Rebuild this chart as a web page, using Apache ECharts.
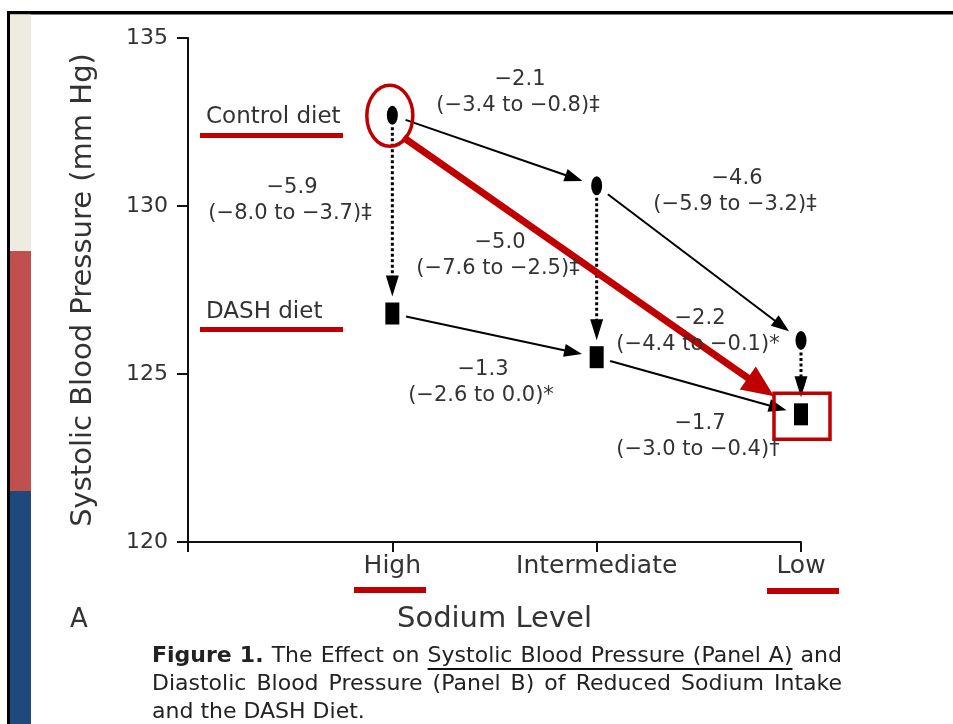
<!DOCTYPE html>
<html>
<head>
<meta charset="utf-8">
<script src="https://cdn.jsdelivr.net/npm/echarts@6/dist/echarts.min.js"></script>
<style>
  html, body { margin: 0; padding: 0; background: #fff; }
  #chart { width: 953px; height: 724px; }
</style>
</head>
<body>
<div id="chart"></div>
<script>
// values
var levels = ['High', 'Intermediate', 'Low'];
var controlBP = [132.7, 130.6, 126.0];
var dashBP = [126.8, 125.5, 123.8];
var yTicks = [120, 125, 130, 135];

// effect labels
var controlDiff = ['\u22122.1', '\u22124.6'];
var controlCI = ['(\u22123.4 to \u22120.8)\u2021', '(\u22125.9 to \u22123.2)\u2021'];
var dashDiff = ['\u22121.3', '\u22121.7'];
var dashCI = ['(\u22122.6 to 0.0)*', '(\u22123.0 to \u22120.4)\u2020'];
var dietDiff = ['\u22125.9', '\u22125.0', '\u22122.2'];
var dietCI = ['(\u22128.0 to \u22123.7)\u2021', '(\u22127.6 to \u22122.5)\u2021', '(\u22124.4 to \u22120.1)*'];

var font = '"DejaVu Sans", "Liberation Sans", sans-serif';
var textColor = '#333';
var hiRed = '#c00000';

// label placement (pixels)
var diffPos = {
  control: [[520, 80], [737, 179]],
  dash: [[483, 370], [700, 424]],
  diet: [[292, 188], [500, 243], [700, 319]]
};
var ciGap = 26;

function pts(vals) {
  return vals.map(function (v, i) { return [i + 1, v]; });
}

// arrow segments: [x1, y1, x2, y2, dotted]
var arrowData = [];
[controlBP, dashBP].forEach(function (vals) {
  for (var i = 0; i < vals.length - 1; i++) arrowData.push([i + 1, vals[i], i + 2, vals[i + 1], 0]);
});
for (var i = 0; i < levels.length; i++) arrowData.push([i + 1, controlBP[i], i + 1, dashBP[i], 1]);

function renderArrow(params, api) {
  var p1 = api.coord([api.value(0), api.value(1)]);
  var p2 = api.coord([api.value(2), api.value(3)]);
  var dotted = api.value(4) === 1;
  var dx = p2[0] - p1[0], dy = p2[1] - p1[1];
  var len = Math.sqrt(dx * dx + dy * dy);
  var ux = dx / len, uy = dy / len, nx = -uy, ny = ux;
  var g0 = dotted ? 12 : 14, g1 = dotted ? 17 : 15;
  var head = dotted ? 21 : 18, half = 6.5;
  var s = [p1[0] + ux * g0, p1[1] + uy * g0];
  var tip = [p2[0] - ux * g1, p2[1] - uy * g1];
  var base = [tip[0] - ux * head, tip[1] - uy * head];
  return {
    type: 'group',
    children: [{
      type: 'line',
      shape: { x1: s[0], y1: s[1], x2: base[0] + ux * 2, y2: base[1] + uy * 2 },
      style: { stroke: '#000', lineWidth: dotted ? 3 : 2, lineDash: dotted ? [3, 2.5] : null }
    }, {
      type: 'polygon',
      shape: { points: [tip, [base[0] + nx * half, base[1] + ny * half], [base[0] - nx * half, base[1] - ny * half]] },
      style: { fill: '#000' }
    }]
  };
}

// red highlight: circle on first control point, arrow to last DASH point, box round it
var highlightData = [[1, controlBP[0], 3, dashBP[2]]];

function renderHighlight(params, api) {
  var a = api.coord([api.value(0), api.value(1)]);
  var b = api.coord([api.value(2), api.value(3)]);
  var s = [a[0] + 11, a[1] + 22];
  var tip = [b[0] - 27, b[1] - 18];
  var dx = tip[0] - s[0], dy = tip[1] - s[1];
  var len = Math.sqrt(dx * dx + dy * dy);
  var ux = dx / len, uy = dy / len, nx = -uy, ny = ux;
  var head = 32, half = 14;
  var base = [tip[0] - ux * head, tip[1] - uy * head];
  return {
    type: 'group',
    children: [{
      type: 'ellipse',
      shape: { cx: a[0] - 2.5, cy: a[1] + 0.5, rx: 23, ry: 30.5 },
      style: { fill: null, stroke: hiRed, lineWidth: 3.5 }
    }, {
      type: 'line',
      shape: { x1: s[0], y1: s[1], x2: base[0] + ux * 3, y2: base[1] + uy * 3 },
      style: { stroke: hiRed, lineWidth: 7 }
    }, {
      type: 'polygon',
      shape: { points: [tip, [base[0] + nx * half, base[1] + ny * half], [base[0] - nx * half, base[1] - ny * half]] },
      style: { fill: hiRed }
    }, {
      type: 'rect',
      shape: { x: b[0] - 27, y: b[1] - 21, width: 56, height: 46 },
      style: { fill: null, stroke: hiRed, lineWidth: 3.5 }
    }]
  };
}

function txt(text, x, y, size, opts) {
  opts = opts || {};
  return {
    type: 'text', z: 10,
    style: {
      text: text, x: x, y: y,
      font: (opts.weight || 'normal') + ' ' + size + 'px ' + font,
      fill: opts.color || textColor,
      textAlign: opts.align || 'center', align: opts.align || 'center',
      textVerticalAlign: 'middle', verticalAlign: 'middle'
    }
  };
}

function box(x, y, w, h, color) {
  return { type: 'rect', z: 1, shape: { x: x, y: y, width: w, height: h }, style: { fill: color } };
}

var graphics = [
  // page frame and side stripes
  box(7, 11, 946, 3.5, '#000'),
  box(7, 11, 3, 713, '#000'),
  box(10, 14.5, 21, 237, '#eeece1'),
  box(10, 251, 21, 240, '#c0504d'),
  box(10, 491, 21, 233, '#1f497d'),
  // series names
  txt('Control diet', 206, 117, 23, { align: 'left' }),
  txt('DASH diet', 206, 312, 23, { align: 'left' }),
  box(200, 133, 143, 5, hiRed),
  box(200, 327, 143, 5, hiRed),
  box(354, 587, 72, 6, hiRed),
  box(767, 588, 72, 6, hiRed),
  txt('A', 79, 620, 26)
];

function addLabel(diff, ci, pos) {
  graphics.push(txt(diff, pos[0], pos[1], 21));
  graphics.push(txt(ci, pos[0] - 2, pos[1] + ciGap, 21));
}
controlDiff.forEach(function (d, i) { addLabel(d, controlCI[i], diffPos.control[i]); });
dashDiff.forEach(function (d, i) { addLabel(d, dashCI[i], diffPos.dash[i]); });
dietDiff.forEach(function (d, i) { addLabel(d, dietCI[i], diffPos.diet[i]); });

// caption, justified like the printed figure
var captionLines = [
  'Figure 1. The Effect on Systolic Blood Pressure (Panel A) and',
  'Diastolic Blood Pressure (Panel B) of Reduced Sodium Intake',
  'and the DASH Diet.'
];
var capLeft = 152, capRight = 842, capY = [656, 684, 712], capSize = 22;
var measure = document.createElement('canvas').getContext('2d');
captionLines.forEach(function (line, li) {
  var words = line.split(' ');
  var widths = words.map(function (w, wi) {
    measure.font = (li === 0 && wi < 2 ? 'bold ' : '') + capSize + 'px ' + font;
    return measure.measureText(w).width;
  });
  measure.font = capSize + 'px ' + font;
  var total = widths.reduce(function (a, b) { return a + b; }, 0);
  var gap = li < 2 ? (capRight - capLeft - total) / (words.length - 1) : measure.measureText(' ').width;
  var x = capLeft, ulStart = 0, ulEnd = 0;
  words.forEach(function (w, wi) {
    graphics.push(txt(w, x, capY[li], capSize, { align: 'left', weight: li === 0 && wi < 2 ? 'bold' : 'normal', color: '#222' }));
    if (li === 0 && wi === 5) ulStart = x;
    if (li === 0 && wi === 9) ulEnd = x + widths[wi];
    x += widths[wi] + gap;
  });
  if (li === 0) {
    graphics.push({ type: 'line', z: 10, shape: { x1: ulStart, y1: 669, x2: ulEnd, y2: 669 }, style: { stroke: '#111', lineWidth: 2 } });
  }
});

var option = {
  backgroundColor: '#fff',
  animation: false,
  grid: { left: 188, right: 152, top: 38, bottom: 182 },
  xAxis: {
    type: 'value', min: 0, max: levels.length, interval: 1,
    name: 'Sodium Level', nameLocation: 'middle', nameGap: 63,
    nameTextStyle: { fontFamily: font, fontSize: 29, color: textColor },
    axisLine: { lineStyle: { color: '#111', width: 2 } },
    axisTick: { show: true, length: 10, lineStyle: { color: '#111', width: 2 } },
    axisLabel: {
      margin: 12, fontFamily: font, fontSize: 25, color: textColor,
      showMinLabel: true, showMaxLabel: true,
      formatter: function (v) { return levels[v - 1] || ''; }
    },
    splitLine: { show: false }
  },
  yAxis: {
    type: 'value', min: yTicks[0], max: yTicks[yTicks.length - 1], interval: 5,
    name: 'Systolic Blood Pressure (mm Hg)', nameLocation: 'middle', nameGap: 90,
    nameTextStyle: { fontFamily: font, fontSize: 29, color: textColor },
    axisLine: { show: true, lineStyle: { color: '#111', width: 2 } },
    axisTick: { show: true, length: 11, lineStyle: { color: '#111', width: 2 } },
    axisLabel: { margin: 20, fontFamily: font, fontSize: 22, color: textColor },
    splitLine: { show: false }
  },
  series: [{
    name: 'arrows', type: 'custom', z: 2,
    renderItem: renderArrow,
    dimensions: ['x1', 'y1', 'x2', 'y2', 'kind'],
    encode: { x: [0, 2], y: [1, 3] },
    data: arrowData
  }, {
    name: 'Control diet', type: 'scatter', z: 3,
    symbol: 'circle', symbolSize: [11, 19],
    itemStyle: { color: '#000', opacity: 1 },
    data: pts(controlBP)
  }, {
    name: 'DASH diet', type: 'scatter', z: 3,
    symbol: 'rect', symbolSize: [14, 22],
    itemStyle: { color: '#000', opacity: 1 },
    data: pts(dashBP)
  }, {
    name: 'highlight', type: 'custom', z: 5,
    renderItem: renderHighlight,
    dimensions: ['x1', 'y1', 'x2', 'y2'],
    encode: { x: [0, 2], y: [1, 3] },
    data: highlightData
  }],
  graphic: graphics
};

var myChart = echarts.init(document.getElementById('chart'), null, { renderer: 'canvas' });
myChart.setOption(option);
</script>
</body>
</html>
